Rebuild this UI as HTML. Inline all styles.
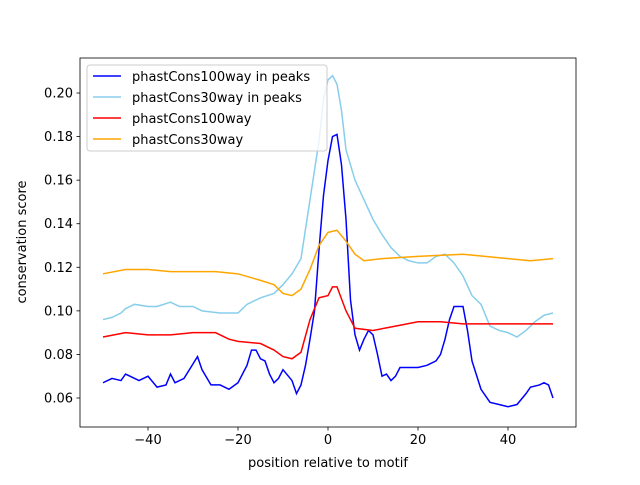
<!DOCTYPE html>
<html><head><meta charset="utf-8"><style>
body{margin:0;background:#fff}
svg text{font-family:"DejaVu Sans","Liberation Sans",sans-serif;font-size:13px;fill:#000}
</style></head><body>
<svg id="chart" width="640" height="480">
<rect x="0" y="0" width="640" height="480" fill="#fff"/>
<g id="series"></g>
<g id="axes"></g>
</svg>
<script>
const xTicks=[-40,-20,0,20,40];
const yTicks=[0.06,0.08,0.10,0.12,0.14,0.16,0.18,0.20];
const peaks100X=[-50,-48,-46,-45,-42,-40,-38,-36,-35,-34,-32,-29,-28,-26,-24,-22,-20,-18,-17,-16,-15,-14,-13,-12,-11,-10,-8,-7,-6,-5,-4,-3,-2,-1,0,1,2,3,4,5,6,7,8,9,10,11,12,13,14,15,16,18,20,22,24,25,26,27,28,30,31,32,34,36,38,40,42,44,45,47,48,49,50];
const peaks100Y=[0.067,0.069,0.068,0.071,0.068,0.070,0.065,0.066,0.071,0.067,0.069,0.079,0.073,0.066,0.066,0.064,0.067,0.075,0.082,0.082,0.078,0.077,0.071,0.067,0.069,0.073,0.068,0.062,0.066,0.075,0.087,0.100,0.128,0.153,0.169,0.180,0.181,0.167,0.142,0.105,0.089,0.082,0.087,0.091,0.089,0.080,0.070,0.071,0.068,0.070,0.074,0.074,0.074,0.075,0.077,0.080,0.087,0.096,0.102,0.102,0.091,0.077,0.064,0.058,0.057,0.056,0.057,0.062,0.065,0.066,0.067,0.066,0.060];
const peaks30X=[-50,-48,-46,-45,-43,-40,-38,-35,-33,-30,-28,-24,-20,-18,-15,-12,-10,-8,-6,-4,-2,-1,0,1,2,3,4,5,6,8,10,12,14,16,18,20,22,24,26,28,30,32,34,36,38,40,42,44,46,48,50];
const peaks30Y=[0.096,0.097,0.099,0.101,0.103,0.102,0.102,0.104,0.102,0.102,0.100,0.099,0.099,0.103,0.106,0.108,0.112,0.117,0.124,0.151,0.178,0.197,0.206,0.208,0.204,0.192,0.174,0.167,0.160,0.151,0.142,0.135,0.129,0.125,0.123,0.122,0.122,0.125,0.126,0.122,0.116,0.107,0.103,0.093,0.091,0.090,0.088,0.091,0.095,0.098,0.099];
const all30X=[-50,-45,-40,-35,-30,-25,-20,-15,-12,-10,-8,-6,-4,-2,0,2,4,6,8,12,20,30,40,45,50];
const all30Y=[0.117,0.119,0.119,0.118,0.118,0.118,0.117,0.114,0.112,0.108,0.107,0.110,0.119,0.130,0.136,0.137,0.132,0.126,0.123,0.124,0.125,0.126,0.124,0.123,0.124];
const all100X=[-50,-45,-40,-35,-30,-25,-22,-20,-15,-12,-10,-8,-6,-4,-2,0,1,2,4,6,10,15,20,25,30,40,50];
const all100Y=[0.088,0.090,0.089,0.089,0.090,0.090,0.087,0.086,0.085,0.082,0.079,0.078,0.081,0.096,0.106,0.107,0.111,0.111,0.100,0.092,0.091,0.093,0.095,0.095,0.094,0.094,0.094];
const seriesNames=["phastCons100way in peaks","phastCons30way in peaks","phastCons100way","phastCons30way"];
const seriesColors=["#0000ff","#87ceeb","#ff0000","#ffa500"];
const L=80,R=576,T=58,B=427;
const xs=v=>328+v*4.5;
const ys=v=>398-(v-0.06)/0.02*43.57;
const NS="http://www.w3.org/2000/svg";
function mk(t,a,p){const e=document.createElementNS(NS,t);for(const k in a)e.setAttribute(k,a[k]);p.appendChild(e);return e;}
const sg=document.getElementById('series'),ag=document.getElementById('axes');
const data=[[peaks100X,peaks100Y],[peaks30X,peaks30Y],[all100X,all100Y],[all30X,all30Y]];
const slugs=["line-phastcons100way-peaks","line-phastcons30way-peaks","line-phastcons100way","line-phastcons30way"];
data.forEach((d,i)=>{
  const p=mk('polyline',{points:d[0].map((x,j)=>xs(x)+','+ys(d[1][j])).join(' '),fill:'none',stroke:seriesColors[i],'stroke-width':1.5},sg);
  
  
});
const frame=mk('rect',{x:L,y:T,width:R-L,height:B-T,fill:'none',stroke:'#000','stroke-width':0.8},ag);


xTicks.forEach(v=>{
  mk('line',{x1:xs(v),x2:xs(v),y1:B,y2:B+3.5,stroke:'#000','stroke-width':0.8},ag);
  const t=mk('text',{x:xs(v),y:B+17,'text-anchor':'middle'},ag);t.textContent=v<0?'\u2212'+(-v):v;
  
  
});
yTicks.forEach(v=>{
  mk('line',{x1:L-3.5,x2:L,y1:ys(v),y2:ys(v),stroke:'#000','stroke-width':0.8},ag);
  const t=mk('text',{x:L-7,y:ys(v)+4.5,'text-anchor':'end'},ag);t.textContent=v.toFixed(2);
  
  
});
const xt=mk('text',{x:328,y:467,'text-anchor':'middle'},ag);xt.textContent='position relative to motif';


const yt=mk('text',{x:0,y:0,'text-anchor':'middle',transform:'translate(26,242) rotate(-90)'},ag);yt.textContent='conservation score';


const lg=mk('g',{},ag);


mk('rect',{x:87,y:65,width:240,height:86,rx:3,fill:'#fff','fill-opacity':0.8,stroke:'#ccc'},lg);
seriesNames.forEach((n,i)=>{
  const y=76+i*21;
  mk('line',{x1:93,x2:121,y1:y,y2:y,stroke:seriesColors[i],'stroke-width':1.5},lg);
  const t=mk('text',{x:132,y:y+5},lg);t.textContent=n;
  
  
});
</script>
</body></html>
